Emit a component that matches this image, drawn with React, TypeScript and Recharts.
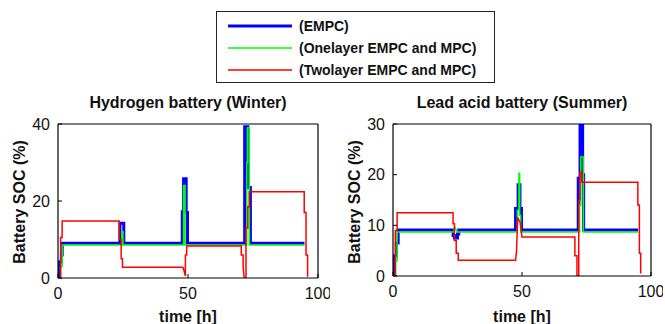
import { LineChart, Line, XAxis, YAxis, ReferenceLine } from 'recharts'

type Pt = [number, number]

// hours vs SOC (%); vertical jumps are two points at the same hour
const winterEmpc: Pt[] = [
  [0.4, 0], [0.6, 0], [0.6, 4.2], [1.3, 4.2], [1.3, 6], [1.6, 6], [1.6, 9], [23.8, 9],
  [23.8, 14.2], [25.3, 14.2], [25.3, 9], [47.8, 9], [47.8, 17.2], [48.3, 17.2], [48.3, 25.8],
  [49.3, 25.8], [49.3, 17], [49.8, 17], [49.8, 9], [71.8, 9], [71.8, 39.3], [73.0, 39.3],
  [73.0, 23.5], [74.0, 23.5], [74.0, 9], [94.8, 9],
]
const winterOne: Pt[] = [
  [0.8, 0], [1.0, 0], [1.0, 3], [1.6, 3], [1.6, 8.6], [24.5, 8.6], [24.5, 12], [25.0, 12],
  [25.0, 8.6], [48.3, 8.6], [48.3, 24], [48.9, 24], [48.9, 8.6], [72.6, 8.6], [72.6, 30],
  [72.9, 30], [72.9, 39], [73.6, 39], [73.6, 8.6], [94.8, 8.6],
]
const winterTwo: Pt[] = [
  [0.6, 0], [1.0, 0], [1.0, 10.5], [1.6, 10.5], [1.6, 14.8], [23.6, 14.8], [23.6, 10],
  [24.3, 10], [24.3, 5], [24.8, 5], [24.8, 2.8], [48.0, 2.8], [48.5, 1.8], [49.0, 0.5],
  [49.0, 6], [49.5, 6], [49.5, 8.3], [70.5, 8.3], [70.5, 6], [71.2, 6], [71.2, 3], [71.6, 0],
  [72.3, 0], [72.3, 13], [73.0, 13], [73.0, 18.5], [73.6, 18.5], [73.6, 22.4], [94.7, 22.4],
  [94.7, 17], [95.4, 17], [95.4, 6], [96.0, 6], [96.0, 0.3],
]

const summerEmpc: Pt[] = [
  [0.3, 0], [0.6, 0], [0.6, 4], [1.3, 4], [1.3, 6.5], [2.0, 6.5], [2.0, 9.1], [23.3, 9.1],
  [23.3, 8], [23.8, 8], [23.8, 7.5], [25.0, 7.5], [25.0, 8.3], [25.5, 8.3], [25.5, 9.1],
  [47.5, 9.1], [47.5, 13.3], [48.5, 13.3], [48.5, 18], [49.2, 18], [49.2, 13.3], [49.8, 13.3],
  [49.8, 9.1], [71.8, 9.1], [71.8, 19.3], [72.5, 19.3], [72.5, 30], [73.5, 30], [73.5, 20],
  [73.9, 20], [73.9, 9.1], [95.0, 9.1],
]
const summerOne: Pt[] = [
  [0.8, 0], [1.0, 0], [1.0, 3], [1.6, 3], [1.6, 8.7], [23.5, 8.7], [24.0, 9.6], [24.5, 9],
  [25.0, 8.7], [48.2, 8.7], [48.2, 13], [48.8, 13], [48.8, 20.3], [49.1, 20.3], [49.1, 12],
  [49.5, 12], [49.5, 8.7], [72.3, 8.7], [72.3, 14], [72.8, 14], [72.8, 23.5], [73.8, 23.5],
  [73.8, 8.7], [95.0, 8.7],
]
const summerTwo: Pt[] = [
  [0.5, 0], [0.9, 0], [0.9, 9], [1.6, 9], [1.6, 12.5], [23.3, 12.5], [23.3, 10.3], [23.8, 10.3],
  [23.8, 7], [24.5, 7], [24.5, 4.5], [25.3, 4.5], [25.3, 3.1], [47.5, 3.1], [47.9, 5],
  [48.3, 11.6], [49.3, 10.5], [50.0, 7.7], [70.5, 7.7], [70.5, 4], [71.3, 4], [71.3, 0],
  [72.0, 0], [72.0, 15], [72.5, 15], [72.5, 20.5], [73.2, 20.5], [73.2, 18.5], [94.9, 18.5],
  [94.9, 14], [95.5, 14], [95.5, 4.5], [96.0, 4.5], [96.0, 0.5],
]

const seriesNames = ['(EMPC)', '(Onelayer EMPC and MPC)', '(Twolayer EMPC and MPC)']
const seriesColors = ['#0000ff', '#00ff00', '#ff0000']
const seriesWidths = [3, 1.5, 1.5]

const timeTicks = [0, 50, 100]
const winterTicks = [0, 20, 40]
const summerTicks = [0, 10, 20, 30]

const FONT = '"Liberation Sans", Arial, sans-serif'

const toRows = (pts: Pt[]) => pts.map(([t, v]) => ({ t, v }))

function Panel(props: {
  left: number
  width: number
  yWidth: number
  bottom: number
  title: string
  series: Pt[][]
  yTicks: number[]
}) {
  const { left, width, yWidth, bottom, title, series, yTicks } = props
  const yMax = yTicks[yTicks.length - 1]
  const plotLeft = left + yWidth
  const plotRight = left + width - 12
  const mid = (plotLeft + plotRight) / 2
  return (
    <>
      <div style={{ position: 'absolute', left: mid - 150, width: 300, top: 94, textAlign: 'center', fontWeight: 'bold', fontSize: 16, color: '#111' }}>
        {title}
      </div>
      <div style={{ position: 'absolute', left: plotLeft - 38 - 80, width: 160, top: 193, textAlign: 'center', fontWeight: 'bold', fontSize: 16, color: '#111', transform: 'rotate(-90deg)' }}>
        Battery SOC (%)
      </div>
      <div style={{ position: 'absolute', left: mid - 60, width: 120, top: 308, textAlign: 'center', fontWeight: 'bold', fontSize: 16, color: '#111' }}>
        time [h]
      </div>
      <div style={{ position: 'absolute', left, top: 90 }}>
        <LineChart width={width} height={234} margin={{ top: 34, right: 12, bottom, left: 0 }}>
          <XAxis xAxisId="x" dataKey="t" type="number" domain={[0, 100]} ticks={timeTicks} allowDataOverflow
            tickSize={-4} tickLine={{ stroke: '#000' }} axisLine={{ stroke: '#000', strokeWidth: 1.2 }} tickMargin={14}
            tick={{ fill: '#111', fontSize: 16, fontFamily: FONT }} height={30} />
          <YAxis yAxisId="y" type="number" domain={[0, yMax]} ticks={yTicks} allowDataOverflow width={yWidth}
            tickSize={-4} tickLine={{ stroke: '#000' }} axisLine={{ stroke: '#000', strokeWidth: 1.2 }} tickMargin={12}
            tick={{ fill: '#111', fontSize: 16, fontFamily: FONT }} />
          <ReferenceLine xAxisId="x" yAxisId="y" x={100} stroke="#000" strokeWidth={1.2} ifOverflow="visible" />
          <ReferenceLine xAxisId="x" yAxisId="y" y={yMax} stroke="#000" strokeWidth={1.2} ifOverflow="visible" />
          {series.map((pts, i) => (
            <Line key={i} xAxisId="x" yAxisId="y" data={toRows(pts)} dataKey="v" type="linear"
              stroke={seriesColors[i]} strokeWidth={seriesWidths[i]} dot={false} isAnimationActive={false} />
          ))}
        </LineChart>
      </div>
    </>
  )
}

export default function App() {
  return (
    <div style={{ position: 'absolute', left: 0, top: 0, width: 665, height: 324, background: '#fff', fontFamily: FONT, overflow: 'hidden' }}>
      <div style={{ position: 'absolute', left: 216, top: 11, width: 277, height: 70, border: '1.5px solid #222', background: '#fff' }}>
        {seriesNames.map((name, i) => (
          <div key={name} style={{ position: 'absolute', left: 11, top: 5 + i * 22, height: 18, display: 'flex', alignItems: 'center' }}>
            <svg width={64} height={6} style={{ marginRight: 7 }}>
              <line x1={0} x2={64} y1={3} y2={3} stroke={seriesColors[i]} strokeWidth={seriesWidths[i]} />
            </svg>
            <span style={{ fontSize: 14, fontWeight: 'bold', color: '#111', whiteSpace: 'nowrap' }}>{name}</span>
          </div>
        ))}
      </div>
      <Panel left={0} width={330} yWidth={58} bottom={16} title="Hydrogen battery (Winter)"
        series={[winterEmpc, winterOne, winterTwo]} yTicks={winterTicks} />
      <Panel left={330} width={333} yWidth={63} bottom={18} title="Lead acid battery (Summer)"
        series={[summerEmpc, summerOne, summerTwo]} yTicks={summerTicks} />
    </div>
  )
}
